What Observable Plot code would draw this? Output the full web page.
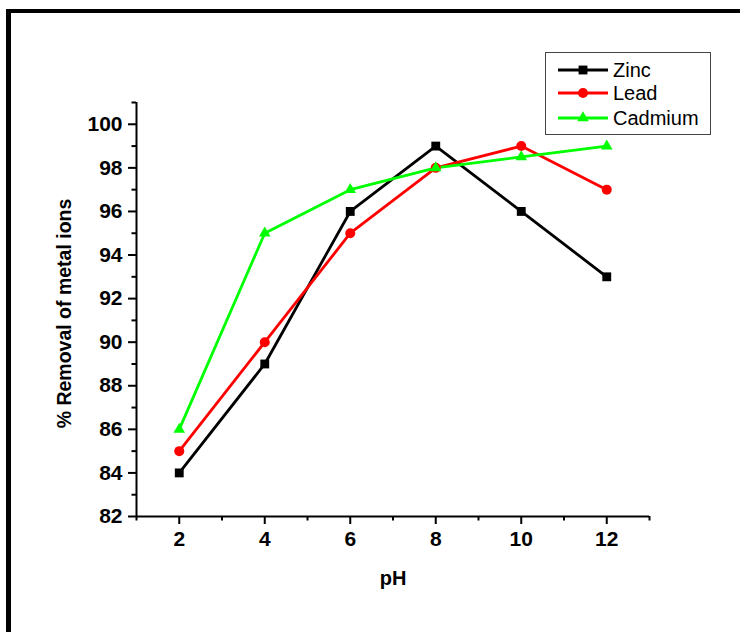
<!DOCTYPE html>
<html><head><meta charset="utf-8">
<script src="https://cdn.jsdelivr.net/npm/d3@7"></script>
<script src="https://cdn.jsdelivr.net/npm/@observablehq/plot@0.6"></script>
<style>
body{margin:0;background:#fff;}
#wrap{position:relative;width:740px;height:632px;overflow:hidden;background:#fff;}
#frame{position:absolute;left:6px;top:9px;width:800px;height:700px;border-left:5px solid #000;border-top:4px solid #000;}
#chart{position:absolute;left:0;top:0;}
#legend{position:absolute;left:545px;top:52px;width:164px;height:81px;border:1px solid #444;background:#fff;}
</style></head>
<body><div id="wrap"><div id="frame"></div><div id="chart"></div><div id="legend"></div></div>
<script>
const pH = [2, 4, 6, 8, 10, 12];
const zinc = [84, 89, 96, 99, 96, 93];
const lead = [85, 90, 95, 98, 99, 97];
const cadmium = [86, 95, 97, 98, 98.5, 99];
const seriesNames = ["Zinc", "Lead", "Cadmium"];
const seriesColors = ["#000000", "#ff0000", "#00ff00"];
const seriesSymbols = ["square", "circle", "triangle"];
const seriesR = [5, 5, 4.3];
const xMajorTicks = [2, 4, 6, 8, 10, 12];
const xMinorTicks = [1, 3, 5, 7, 9, 11, 13];
const yMajorTicks = [82, 84, 86, 88, 90, 92, 94, 96, 98, 100];
const yMinorTicks = [83, 85, 87, 89, 91, 93, 95, 97, 99, 101];
const xLabel = "pH";
const yLabel = "% Removal of metal ions";

const seriesValues = [zinc, lead, cadmium];
const rows = seriesNames.map((name, i) => pH.map((x, j) => ({series: name, x, y: seriesValues[i][j]})));

const marks = [];
rows.forEach((data, i) => {
  marks.push(Plot.line(data, {x: "x", y: "y", stroke: seriesColors[i], strokeWidth: 2.8}));
});
rows.forEach((data, i) => {
  marks.push(Plot.dot(data, {x: "x", y: "y", symbol: () => seriesSymbols[i], r: seriesR[i], fill: seriesColors[i], stroke: "none"}));
});

const chart = Plot.plot({
  width: 740,
  height: 632,
  marginLeft: 136,
  marginRight: 91,
  marginTop: 102,
  marginBottom: 116,
  style: {fontFamily: "'Liberation Sans', Arial, sans-serif", background: "transparent", color: "#000"},
  x: {domain: [1, 13]},
  y: {domain: [82, 101]},
  symbol: {type: "identity"},
  marks: [
    Plot.axisX(xMajorTicks, {tickSize: 8, tickPadding: 7, fontSize: 21, fontWeight: "bold", strokeWidth: 2, label: null}),
    Plot.axisX(xMinorTicks, {tickSize: 4.5, tickFormat: () => "", strokeWidth: 2, label: null}),
    Plot.axisY(yMajorTicks, {tickSize: 8, tickPadding: 6, fontSize: 21, fontWeight: "bold", strokeWidth: 2, label: null}),
    Plot.axisY(yMinorTicks, {tickSize: 4.5, tickFormat: () => "", strokeWidth: 2, label: null}),
    Plot.ruleX([1], {strokeWidth: 2}),
    Plot.ruleY([82], {strokeWidth: 2}),
    ...marks,
    Plot.text([yLabel], {text: d => d, frameAnchor: "left", textAnchor: "middle", dx: -72, dy: 4, rotate: -90, fontSize: 19.5, fontWeight: "bold"}),
    Plot.text([xLabel], {text: d => d, frameAnchor: "bottom", dy: 62, fontSize: 20, fontWeight: "bold", lineAnchor: "middle"})
  ]
});
document.getElementById("chart").appendChild(chart);

// legend
const lg = d3.select("#legend").append("svg").attr("width", 164).attr("height", 81)
  .style("font-family", "'Liberation Sans', Arial, sans-serif");
const symMap = {square: d3.symbolSquare, circle: d3.symbolCircle, triangle: d3.symbolTriangle};
const rowY = [17, 40, 65];
seriesNames.forEach((name, i) => {
  const g = lg.append("g").attr("transform", `translate(0,${rowY[i]})`);
  g.append("line").attr("x1", 12).attr("x2", 62).attr("stroke", seriesColors[i]).attr("stroke-width", 2.8);
  g.append("path").attr("transform", "translate(37,0)")
    .attr("d", d3.symbol(symMap[seriesSymbols[i]], seriesR[i] * seriesR[i] * Math.PI)())
    .attr("fill", seriesColors[i]);
  g.append("text").attr("x", 67).attr("dy", "0.35em").attr("font-size", 20).text(name);
});
</script>
</body></html>
